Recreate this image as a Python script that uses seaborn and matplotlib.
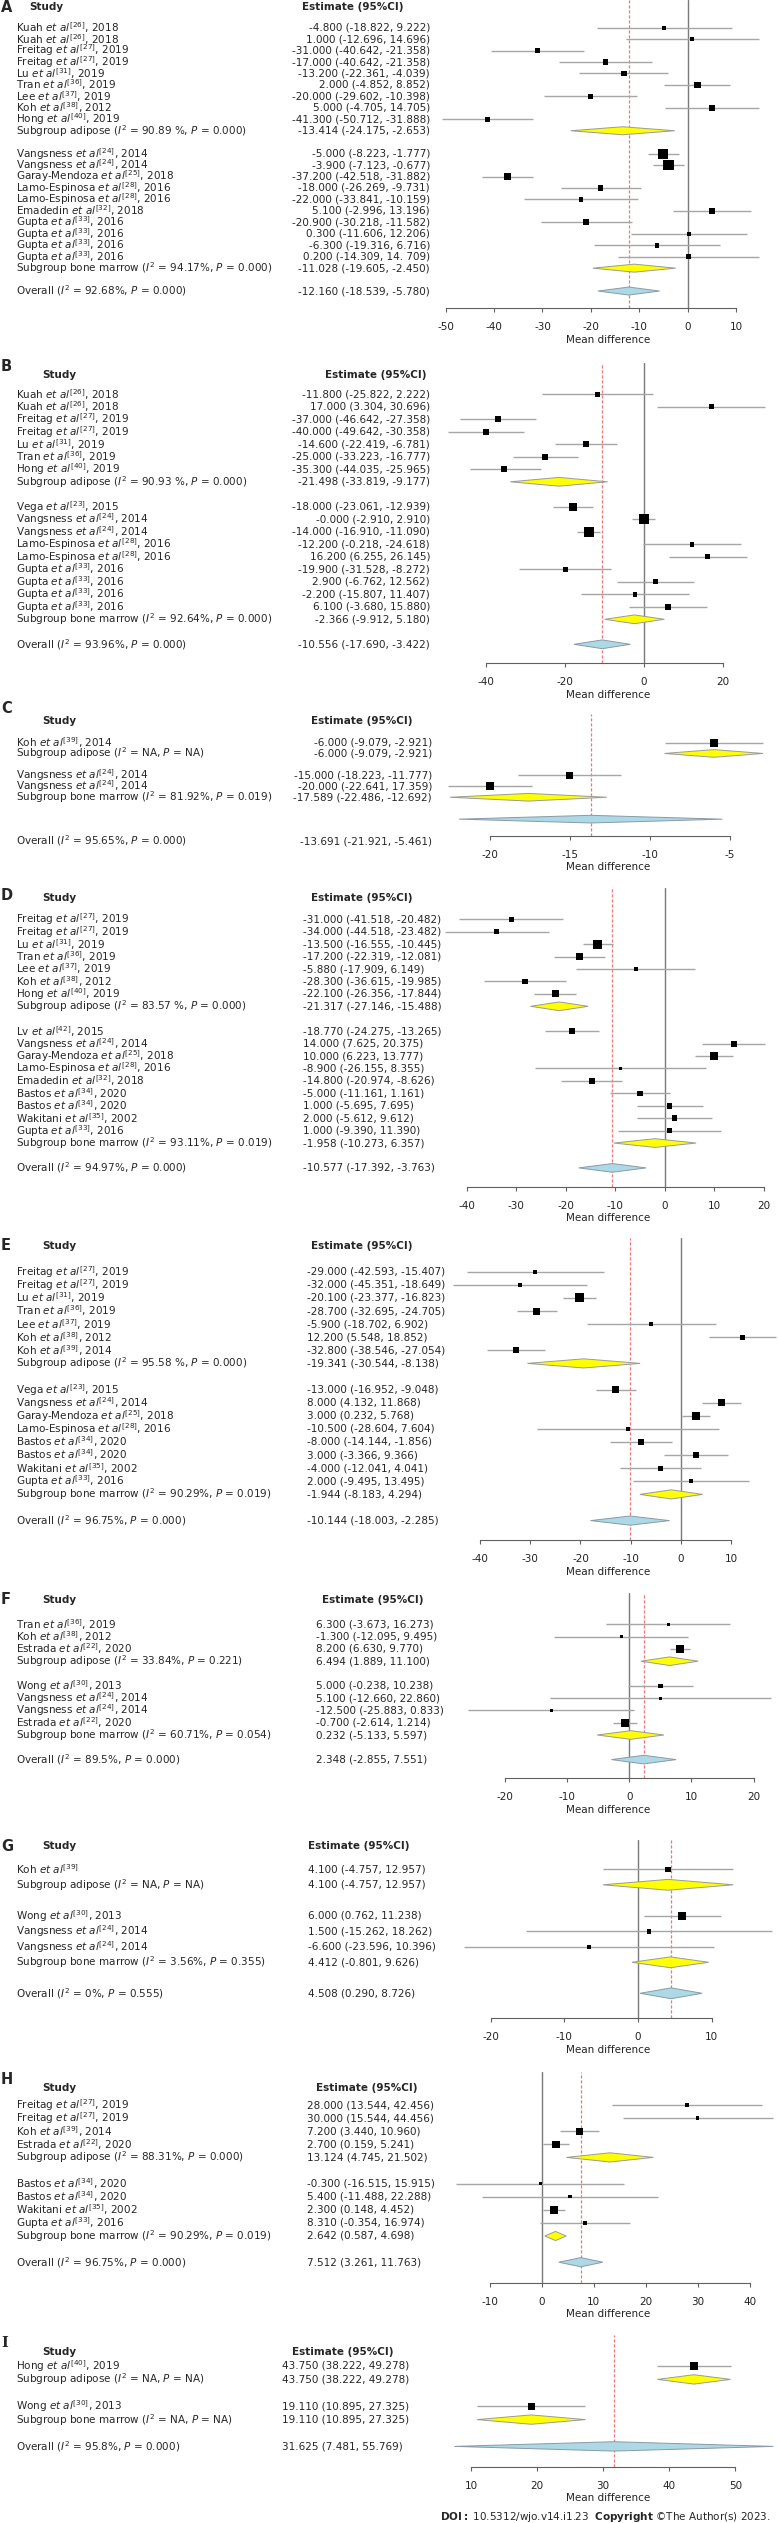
import matplotlib
matplotlib.use("Agg")
import matplotlib.pyplot as plt
import matplotlib.transforms as mtransforms
import seaborn as sns

# ---------------- data, panel A ----------------
a_study = [("Kuah", 26, 2018), ("Kuah", 26, 2018), ("Freitag", 27, 2019), ("Freitag", 27, 2019),
           ("Lu", 31, 2019), ("Tran", 36, 2019), ("Lee", 37, 2019), ("Koh", 38, 2012), ("Hong", 40, 2019),
           ("Vangsness", 24, 2014), ("Vangsness", 24, 2014), ("Garay-Mendoza", 25, 2018),
           ("Lamo-Espinosa", 28, 2016), ("Lamo-Espinosa", 28, 2016), ("Emadedin", 32, 2018),
           ("Gupta", 33, 2016), ("Gupta", 33, 2016), ("Gupta", 33, 2016), ("Gupta", 33, 2016)]
a_n1 = 9
a_est = [-4.8, 1.0, -31.0, -17.0, -13.2, 2.0, -20.0, 5.0, -41.3,
         -5.0, -3.9, -37.2, -18.0, -22.0, 5.1, -20.9, 0.3, -6.3, 0.2]
a_lo = [-18.822, -12.696, -40.642, -26.642, -22.361, -4.852, -29.602, -4.705, -50.712,
        -8.223, -7.123, -42.518, -26.269, -33.841, -2.996, -30.218, -11.606, -19.316, -14.309]
a_hi = [9.222, 14.696, -21.358, -7.358, -4.039, 8.852, -10.398, 14.705, -31.888,
        -1.777, -0.677, -31.882, -9.731, -10.159, 13.196, -11.582, 12.206, 6.716, 14.709]
a_w = [4, 4, 5, 5.5, 5.5, 6.5, 5, 6, 5, 10, 10.5, 7.5, 5.5, 4.5, 6, 6, 4.5, 4.5, 4.5]
a_sub = [(-13.414, -24.175, -2.653), (-11.028, -19.605, -2.450)]
a_sub_stat = [("90.89 %", "0.000"), ("94.17%", "0.000")]
a_all = (-12.160, -18.539, -5.780)
a_all_stat = ("92.68%", "0.000")
a_ticks = [-50, -40, -30, -20, -10, 0, 10]
a_fix = {3: "-17.000 (-40.642, -21.358)", 18: "0.200 (-14.309, 14. 709)"}

# ---------------- panel B ----------------
b_study = [("Kuah", 26, 2018), ("Kuah", 26, 2018), ("Freitag", 27, 2019), ("Freitag", 27, 2019),
           ("Lu", 31, 2019), ("Tran", 36, 2019), ("Hong", 40, 2019),
           ("Vega", 23, 2015), ("Vangsness", 24, 2014), ("Vangsness", 24, 2014),
           ("Lamo-Espinosa", 28, 2016), ("Lamo-Espinosa", 28, 2016),
           ("Gupta", 33, 2016), ("Gupta", 33, 2016), ("Gupta", 33, 2016), ("Gupta", 33, 2016)]
b_n1 = 7
b_est = [-11.8, 17.0, -37.0, -40.0, -14.6, -25.0, -35.3,
         -18.0, -0.0, -14.0, 12.2, 16.2, -19.9, 2.9, -2.2, 6.1]
b_lo = [-25.822, 3.304, -46.642, -49.642, -22.419, -33.223, -44.035,
        -23.061, -2.910, -16.910, -0.218, 6.255, -31.528, -6.762, -15.807, -3.680]
b_hi = [2.222, 30.696, -27.358, -30.358, -6.781, -16.777, -25.965,
        -12.939, 2.910, -11.090, 24.618, 26.145, -8.272, 12.562, 11.407, 15.880]
b_w = [5, 5, 6, 6, 6, 6, 6, 8, 10, 10, 4.5, 5, 5, 5, 4.5, 5.5]
b_sub = [(-21.498, -33.819, -9.177), (-2.366, -9.912, 5.180)]
b_sub_stat = [("90.93 %", "0.000"), ("92.64%", "0.000")]
b_all = (-10.556, -17.690, -3.422)
b_all_stat = ("93.96%", "0.000")
b_ticks = [-40, -20, 0, 20]
b_fix = {10: "-12.200 (-0.218, -24.618)"}

# ---------------- panel C ----------------
c_study = [("Koh", 39, 2014), ("Vangsness", 24, 2014), ("Vangsness", 24, 2014)]
c_n1 = 1
c_est = [-6.0, -15.0, -20.0]
c_lo = [-9.079, -18.223, -22.641]
c_hi = [-2.921, -11.777, -17.359]
c_w = [8, 7, 8]
c_sub = [(-6.000, -9.079, -2.921), (-17.589, -22.486, -12.692)]
c_sub_stat = [("NA", "NA"), ("81.92%", "0.019")]
c_all = (-13.691, -21.921, -5.461)
c_all_stat = ("95.65%", "0.000")
c_ticks = [-20, -15, -10, -5]
c_fix = {2: "-20.000 (-22.641, 17.359)"}

# ---------------- panel D ----------------
d_study = [("Freitag", 27, 2019), ("Freitag", 27, 2019), ("Lu", 31, 2019), ("Tran", 36, 2019),
           ("Lee", 37, 2019), ("Koh", 38, 2012), ("Hong", 40, 2019),
           ("Lv", 42, 2015), ("Vangsness", 24, 2014), ("Garay-Mendoza", 25, 2018),
           ("Lamo-Espinosa", 28, 2016), ("Emadedin", 32, 2018), ("Bastos", 34, 2020),
           ("Bastos", 34, 2020), ("Wakitani", 35, 2002), ("Gupta", 33, 2016)]
d_n1 = 7
d_est = [-31.0, -34.0, -13.5, -17.2, -5.88, -28.3, -22.1,
         -18.77, 14.0, 10.0, -8.9, -14.8, -5.0, 1.0, 2.0, 1.0]
d_lo = [-41.518, -44.518, -16.555, -22.319, -17.909, -36.615, -26.356,
        -24.275, 7.625, 6.223, -26.155, -20.974, -11.161, -5.695, -5.612, -9.390]
d_hi = [-20.482, -23.482, -10.445, -12.081, 6.149, -19.985, -17.844,
        -13.265, 20.375, 13.777, 8.355, -8.626, 1.161, 7.695, 9.612, 11.390]
d_w = [4.5, 4.5, 9, 6.5, 4, 5.5, 7, 6, 6, 8, 3.5, 6, 5.5, 5.5, 5.5, 5]
d_sub = [(-21.317, -27.146, -15.488), (-1.958, -10.273, 6.357)]
d_sub_stat = [("83.57 %", "0.000"), ("93.11%", "0.019")]
d_all = (-10.577, -17.392, -3.763)
d_all_stat = ("94.97%", "0.000")
d_ticks = [-40, -30, -20, -10, 0, 10, 20]
d_fix = {}

# ---------------- panel E ----------------
e_study = [("Freitag", 27, 2019), ("Freitag", 27, 2019), ("Lu", 31, 2019), ("Tran", 36, 2019),
           ("Lee", 37, 2019), ("Koh", 38, 2012), ("Koh", 39, 2014),
           ("Vega", 23, 2015), ("Vangsness", 24, 2014), ("Garay-Mendoza", 25, 2018),
           ("Lamo-Espinosa", 28, 2016), ("Bastos", 34, 2020), ("Bastos", 34, 2020),
           ("Wakitani", 35, 2002), ("Gupta", 33, 2016)]
e_n1 = 7
e_est = [-29.0, -32.0, -20.1, -28.7, -5.9, 12.2, -32.8,
         -13.0, 8.0, 3.0, -10.5, -8.0, 3.0, -4.0, 2.0]
e_lo = [-42.593, -45.351, -23.377, -32.695, -18.702, 5.548, -38.546,
        -16.952, 4.132, 0.232, -28.604, -14.144, -3.366, -12.041, -9.495]
e_hi = [-15.407, -18.649, -16.823, -24.705, 6.902, 18.852, -27.054,
        -9.048, 11.868, 5.768, 7.604, -1.856, 9.366, 4.041, 13.495]
e_w = [4, 4, 9, 7, 4, 5, 6, 7, 7, 8.5, 3.5, 5.5, 5.5, 5, 4]
e_sub = [(-19.341, -30.544, -8.138), (-1.944, -8.183, 4.294)]
e_sub_stat = [("95.58 %", "0.000"), ("90.29%", "0.019")]
e_all = (-10.144, -18.003, -2.285)
e_all_stat = ("96.75%", "0.000")
e_ticks = [-40, -30, -20, -10, 0, 10]
e_fix = {}

# ---------------- panel F ----------------
f_study = [("Tran", 36, 2019), ("Koh", 38, 2012), ("Estrada", 22, 2020),
           ("Wong", 30, 2013), ("Vangsness", 24, 2014), ("Vangsness", 24, 2014), ("Estrada", 22, 2020)]
f_n1 = 3
f_est = [6.3, -1.3, 8.2, 5.0, 5.1, -12.5, -0.7]
f_lo = [-3.673, -12.095, 6.630, -0.238, -12.660, -25.883, -2.614]
f_hi = [16.273, 9.495, 9.770, 10.238, 22.860, 0.833, 1.214]
f_w = [3.5, 3, 8, 4.5, 3, 3, 8]
f_sub = [(6.494, 1.889, 11.100), (0.232, -5.133, 5.597)]
f_sub_stat = [("33.84%", "0.221"), ("60.71%", "0.054")]
f_all = (2.348, -2.855, 7.551)
f_all_stat = ("89.5%", "0.000")
f_ticks = [-20, -10, 0, 10, 20]
f_fix = {}

# ---------------- panel G ----------------
g_study = [("Koh", 39, None), ("Wong", 30, 2013), ("Vangsness", 24, 2014), ("Vangsness", 24, 2014)]
g_n1 = 1
g_est = [4.1, 6.0, 1.5, -6.6]
g_lo = [-4.757, 0.762, -15.262, -23.596]
g_hi = [12.957, 11.238, 18.262, 10.396]
g_w = [5.5, 8, 4.5, 4]
g_sub = [(4.100, -4.757, 12.957), (4.412, -0.801, 9.626)]
g_sub_stat = [("NA", "NA"), ("3.56%", "0.355")]
g_all = (4.508, 0.290, 8.726)
g_all_stat = ("0%", "0.555")
g_ticks = [-20, -10, 0, 10]
g_fix = {}

# ---------------- panel H ----------------
h_study = [("Freitag", 27, 2019), ("Freitag", 27, 2019), ("Koh", 39, 2014), ("Estrada", 22, 2020),
           ("Bastos", 34, 2020), ("Bastos", 34, 2020), ("Wakitani", 35, 2002), ("Gupta", 33, 2016)]
h_n1 = 4
h_est = [28.0, 30.0, 7.2, 2.7, -0.3, 5.4, 2.3, 8.31]
h_lo = [13.544, 15.544, 3.440, 0.159, -16.515, -11.488, 0.148, -0.354]
h_hi = [42.456, 44.456, 10.960, 5.241, 15.915, 22.288, 4.452, 16.974]
h_w = [3.5, 3.5, 7, 7.5, 3, 3.5, 8, 4.5]
h_sub = [(13.124, 4.745, 21.502), (2.642, 0.587, 4.698)]
h_sub_stat = [("88.31%", "0.000"), ("90.29%", "0.019")]
h_all = (7.512, 3.261, 11.763)
h_all_stat = ("96.75%", "0.000")
h_ticks = [-10, 0, 10, 20, 30, 40]
h_fix = {}

# ---------------- panel I ----------------
i_study = [("Hong", 40, 2019), ("Wong", 30, 2013)]
i_n1 = 1
i_est = [43.75, 19.11]
i_lo = [38.222, 10.895]
i_hi = [49.278, 27.325]
i_w = [8, 7]
i_sub = [(43.750, 38.222, 49.278), (19.110, 10.895, 27.325)]
i_sub_stat = [("NA", "NA"), ("NA", "NA")]
i_all = (31.625, 7.481, 55.769)
i_all_stat = ("95.8%", "0.000")
i_ticks = [10, 20, 30, 40, 50]
i_fix = {}

# ---------------- layout (pixels of the 778 x 2523 picture) ----------------
W, H = 778, 2523
LAYOUT = {
    "A": dict(top=0, spine=308, y0=27.7, sp=11.45, tick_px=(445.7, 736.0), letter_y=7, head_y=7,
              study_x=29, head_x=302, val_x=430, val_ha="right"),
    "B": dict(top=363.3, spine=663, y0=394.3, sp=12.5, tick_px=(485.9, 722.9), letter_y=366.7, head_y=375,
              study_x=42, head_x=325, val_x=430, val_ha="right"),
    "C": dict(top=714, spine=835.7, y0=742.5, sp=10.95, tick_px=(489.8, 729.8), letter_y=708.3, head_y=721,
              study_x=42, head_x=311, val_x=432, val_ha="right", shift=2),
    "D": dict(top=888.3, spine=1186.7, y0=919.3, sp=12.43, tick_px=(467.0, 763.5), letter_y=895.7,
              head_y=897.7, study_x=42, head_x=311, val_x=303.4, val_ha="left"),
    "E": dict(top=1238.3, spine=1540, y0=1271.7, sp=13.1, tick_px=(479.9, 731.3), letter_y=1245,
              head_y=1246, study_x=42, head_x=311, val_x=307.4, val_ha="left"),
    "F": dict(top=1593.3, spine=1778.3, y0=1624.3, sp=12.3, tick_px=(504.7, 753.6), letter_y=1599.3,
              head_y=1600, study_x=42, head_x=322, val_x=315.8, val_ha="left"),
    "G": dict(top=1840, spine=2018.3, y0=1869.3, sp=15.5, tick_px=(490.8, 711.5), letter_y=1846.7,
              head_y=1846, study_x=42, head_x=308, val_x=308.4, val_ha="left"),
    "H": dict(top=2071.7, spine=2282.7, y0=2105, sp=13.1, tick_px=(489.8, 749.6), letter_y=2080,
              head_y=2087.7, study_x=42, head_x=316, val_x=307.4, val_ha="left"),
    "I": dict(top=2335, spine=2466.7, y0=2366, sp=13.4, tick_px=(471.0, 735.3), letter_y=2343.3,
              head_y=2351.7, study_x=42, head_x=291.5, val_x=281.6, val_ha="left"),
}

FS = 7.5
CI_COLOR = "#a6a6a6"
ZERO_COLOR = "#7a7a7a"
RED = "#ee7777"
YELLOW = "#ffff00"
BLUE = "#add8e6"

sns.set_style("white")
plt.rcParams["font.family"] = "DejaVu Sans"
plt.rcParams["mathtext.fontset"] = "dejavusans"
plt.rcParams["axes.unicode_minus"] = False

fig = plt.figure(figsize=(W / 100, H / 100), dpi=100)
fig.patch.set_facecolor("white")


def study_label(author, ref, year):
    s = author + r" $\mathit{et\ al}^{[" + str(ref) + "]}$"
    if year is not None:
        s += ", " + str(year)
    return s


def fmt(e, l, h):
    return f"{e:.3f} ({l:.3f}, {h:.3f})"


def draw_panel(key, study, n1, est, lo, hi, w, sub, sub_stat, allv, all_stat, ticks, fix):
    L = LAYOUT[key]
    left_px, right_px = 438, 778
    ax = fig.add_axes([left_px / W, 1 - L["spine"] / H, (right_px - left_px) / W,
                       (L["spine"] - L["top"]) / H])
    ax.patch.set_visible(False)
    p0, p1 = L["tick_px"]
    t0, t1 = ticks[0], ticks[-1]
    k = (p1 - p0) / (t1 - t0)
    y0, sp = L["y0"], L["sp"]

    n2 = len(study) - n1
    rows = list(range(n1)) + list(range(n1 + 2, n1 + 2 + n2))
    sub_rows = [n1, n1 + 2 + n2]
    all_row = n1 + n2 + 4

    # reference lines
    if t0 <= 0 <= t1:
        ax.axvline(0, color=ZERO_COLOR, lw=1.0, zorder=1)
    ax.axvline(allv[0], color=RED, lw=0.9, ls=(0, (2.5, 1.5)), zorder=1)

    # confidence intervals and study squares
    ax.hlines(rows, lo, hi, color=CI_COLOR, lw=1.0, zorder=2, clip_on=False)
    sns.scatterplot(x=est, y=rows, s=[(v * 0.72) ** 2 for v in w], marker="s", color="black",
                    linewidth=0, ax=ax, legend=False, zorder=3, clip_on=False)

    dh = 0.35
    for (e, l, h), r in zip(sub, sub_rows):
        ax.fill([l, e, h, e], [r, r - dh, r, r + dh], facecolor=YELLOW, edgecolor="#9a9a9a",
                lw=0.7, zorder=3, clip_on=False)
    e, l, h = allv
    ax.fill([l, e, h, e], [all_row, all_row - dh, all_row, all_row + dh], facecolor=BLUE,
            edgecolor="#8a9aa8", lw=0.7, zorder=3, clip_on=False)

    ax.set_xlim(t0 + (left_px - p0) / k, t0 + (right_px - p0) / k)
    ax.set_ylim((L["spine"] - y0) / sp, (L["top"] - y0) / sp)

    for side in ["left", "top", "right"]:
        ax.spines[side].set_visible(False)
    ax.spines["bottom"].set_bounds(t0, t1)
    ax.spines["bottom"].set_color("#606060")
    ax.spines["bottom"].set_linewidth(0.8)
    ax.set_xticks(ticks)
    ax.set_yticks([])
    ax.tick_params(axis="x", bottom=True, direction="out", length=3, width=0.8, color="#606060",
                   pad=7, labelsize=FS, labelcolor="#222222")
    ax.set_xlabel("Mean difference", fontsize=FS, labelpad=2, color="#222222")
    ax.set_ylabel("")

    # left-hand text columns
    trans = mtransforms.blended_transform_factory(fig.transFigure, ax.transData)
    lab_x = 16 / W
    val_x = L["val_x"] / W
    ha = L["val_ha"]
    for i, (st, r) in enumerate(zip(study, rows)):
        ax.text(lab_x, r, study_label(*st), transform=trans, fontsize=FS, va="center", clip_on=False)
        txt = fix.get(i, fmt(est[i], lo[i], hi[i]))
        ax.text(val_x, r, txt, transform=trans, fontsize=FS, va="center", ha=ha, clip_on=False)
    for name, (e, l, h), (i2, p), r in zip(["adipose", "bone marrow"], sub, sub_stat, sub_rows):
        lab = "Subgroup " + name + r" ($\mathit{I}^{2}$ = " + i2 + r", $\mathit{P}$ = " + p + ")"
        ax.text(lab_x, r, lab, transform=trans, fontsize=FS, va="center", clip_on=False)
        ax.text(val_x, r, fmt(e, l, h), transform=trans, fontsize=FS, va="center", ha=ha, clip_on=False)
    r = all_row + L.get("shift", 0)
    lab = r"Overall ($\mathit{I}^{2}$ = " + all_stat[0] + r", $\mathit{P}$ = " + all_stat[1] + ")"
    ax.text(lab_x, r, lab, transform=trans, fontsize=FS, va="center", clip_on=False)
    ax.text(val_x, r, fmt(*allv), transform=trans, fontsize=FS, va="center", ha=ha, clip_on=False)

    # panel letter and headers
    fam = "DejaVu Serif" if key == "I" else "DejaVu Sans"
    fig.text(1 / W, 1 - L["letter_y"] / H, key, fontsize=10.5, fontweight="bold", family=fam,
             va="center", ha="left")
    fig.text(L["study_x"] / W, 1 - L["head_y"] / H, "Study", fontsize=FS, fontweight="bold",
             va="center", ha="left")
    fig.text(L["head_x"] / W, 1 - L["head_y"] / H, "Estimate (95%CI)", fontsize=FS,
             fontweight="bold", va="center", ha="left")


PANELS = [
    ("A", a_study, a_n1, a_est, a_lo, a_hi, a_w, a_sub, a_sub_stat, a_all, a_all_stat, a_ticks, a_fix),
    ("B", b_study, b_n1, b_est, b_lo, b_hi, b_w, b_sub, b_sub_stat, b_all, b_all_stat, b_ticks, b_fix),
    ("C", c_study, c_n1, c_est, c_lo, c_hi, c_w, c_sub, c_sub_stat, c_all, c_all_stat, c_ticks, c_fix),
    ("D", d_study, d_n1, d_est, d_lo, d_hi, d_w, d_sub, d_sub_stat, d_all, d_all_stat, d_ticks, d_fix),
    ("E", e_study, e_n1, e_est, e_lo, e_hi, e_w, e_sub, e_sub_stat, e_all, e_all_stat, e_ticks, e_fix),
    ("F", f_study, f_n1, f_est, f_lo, f_hi, f_w, f_sub, f_sub_stat, f_all, f_all_stat, f_ticks, f_fix),
    ("G", g_study, g_n1, g_est, g_lo, g_hi, g_w, g_sub, g_sub_stat, g_all, g_all_stat, g_ticks, g_fix),
    ("H", h_study, h_n1, h_est, h_lo, h_hi, h_w, h_sub, h_sub_stat, h_all, h_all_stat, h_ticks, h_fix),
    ("I", i_study, i_n1, i_est, i_lo, i_hi, i_w, i_sub, i_sub_stat, i_all, i_all_stat, i_ticks, i_fix),
]

for spec in PANELS:
    draw_panel(*spec)

fig.text(771 / W, 1 - 2516.7 / H,
         r"$\mathbf{DOI:}$ 10.5312/wjo.v14.i1.23  $\mathbf{Copyright}$ ©The Author(s) 2023.",
         fontsize=FS, ha="right", va="center")

fig.savefig("out.png", dpi=100, facecolor="white")
